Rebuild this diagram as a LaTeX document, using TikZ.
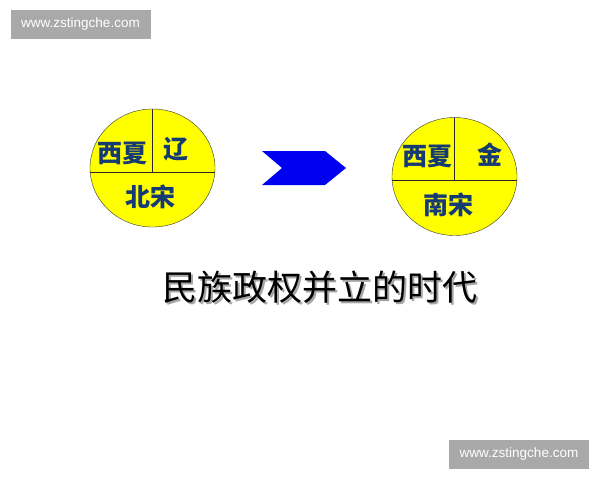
\documentclass[tikz,border=0pt]{standalone}
\usepackage{fontspec}
\newfontfamily\cjk{Noto Sans CJK SC}
\newfontfamily\webfont{Liberation Sans}
\usetikzlibrary{shapes.geometric}
\definecolor{stateblue}{HTML}{163A72}
\definecolor{disk}{HTML}{FFFF00}
\definecolor{chevron}{HTML}{0000F0}
\definecolor{markgray}{HTML}{A9A9A9}
\newcommand{\shadowed}[1]{\makebox[0pt][l]{\hspace{2pt}\raisebox{-2.5pt}{\textcolor{black!35}{#1}}}#1}
\tikzset{
  realm/.style={ellipse, draw=black!80, fill=disk, thin, minimum width=125pt, minimum height=118pt, inner sep=0pt},
  statename/.style={text=stateblue, font=\cjk\bfseries\fontsize{25}{25}\selectfont, inner sep=0pt},
  divider/.style={draw=black!85, thin},
  watermark/.style={fill=markgray, text=white, font=\webfont\fontsize{13.5}{13.5}\selectfont, minimum width=140pt, minimum height=29pt, inner sep=0pt},
}
\begin{document}
\begin{tikzpicture}[x=1pt, y=-1pt]
    \useasboundingbox (0,0) rectangle (600,480);
    % watermarks
    \node[watermark] (markA) at (80.5,24.5) {www.zstingche.com};
    \node[watermark] (markB) at (519,454.5) {www.zstingche.com};
    % before: Northern Song
    \node[realm] (north) at (152.5,168) {};
    \draw[divider] ([yshift=-4pt]north.west) -- ([yshift=-4pt]north.east);
    \draw[divider] (north.north) -- ([yshift=-4pt]north.center);
    \node[statename] (xiaA) at (122,153) {西夏};
    \node[statename] (liao) at (176,149) {辽};
    \node[statename] (beisong) at (150,197) {北宋};
    % arrow
    \fill[chevron] (262,151) -- (325,151) -- (346,168) -- (325,185) -- (262,185) -- (282,168) -- cycle;
    % after: Southern Song
    \node[realm] (south) at (454.5,176.5) {};
    \draw[divider] ([yshift=-4pt]south.west) -- ([yshift=-4pt]south.east);
    \draw[divider] (south.north) -- ([yshift=-4pt]south.center);
    \node[statename] (xiaB) at (427.5,156.5) {西夏};
    \node[statename] (jin) at (490,155) {金};
    \node[statename] (nansong) at (448,205) {南宋};
    % title with shadow
    \node[text=black, font=\cjk\fontsize{35}{35}\selectfont, inner sep=0pt] (title) at (319.5,288) {\shadowed{民族政权并立的时代}};
\end{tikzpicture}
\end{document}
